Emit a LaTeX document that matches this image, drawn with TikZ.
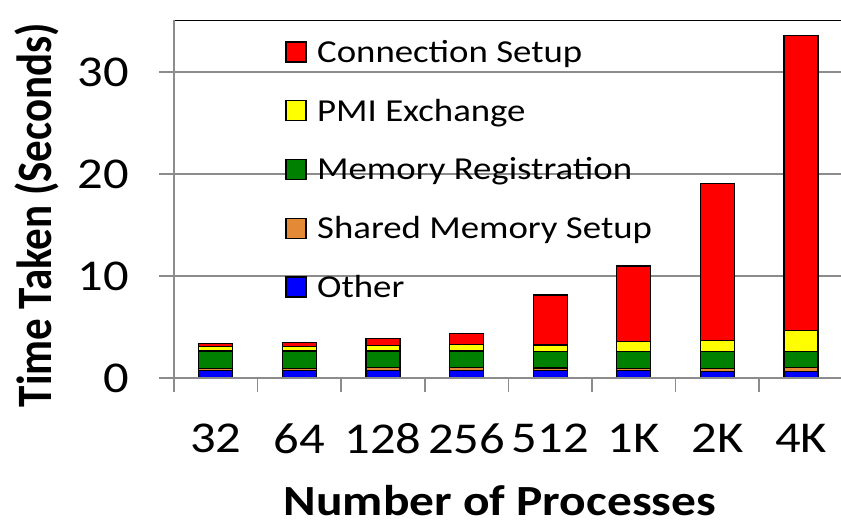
\documentclass[tikz,border=0pt]{standalone}
\usepackage{fontspec}
\setmainfont{Carlito}[FakeStretch=1.15]
\newfontfamily\uprightlabel{Carlito}
\definecolor{axisgray}{RGB}{140,140,140}
\definecolor{cred}{RGB}{255,0,0}
\definecolor{cyellow}{RGB}{255,255,0}
\definecolor{cgreen}{RGB}{0,128,0}
\definecolor{corange}{RGB}{228,138,54}
\definecolor{cblue}{RGB}{0,0,255}
\begin{document}
\begin{tikzpicture}[x=1pt,y=-1pt,
  grid/.style={draw=axisgray,line width=1.5pt},
  seg/.style={draw=black,line width=1.2pt},
  ticklab/.style={font=\fontsize{44}{48}\selectfont,inner sep=0pt},
  leglab/.style={font=\fontsize{32}{36}\selectfont,inner sep=0pt,anchor=base west},
  legkey/.style={draw=black,line width=1.2pt,minimum size=20pt,inner sep=0pt},
  titlelab/.style={font=\fontsize{43}{48}\selectfont\bfseries,inner sep=0pt}]
\useasboundingbox (0,0) rectangle (841,524);
\fill[white] (0,0) rectangle (841,524);

% horizontal gridlines with their ticks
\foreach \v in {10,20,30}
  \draw[grid] (159,{378-10.2*\v}) -- (841,{378-10.2*\v});

% plot area top edge
\draw[black,line width=1.5pt] (174,20.5) -- (841,20.5);

% stacked bars: cumulative tops of Other, Shared Memory, Memory Reg., PMI, Connection
\foreach \k/\a/\b/\c/\d/\e in {
    0/0.75/0.93/2.65/3.09/3.36,
    1/0.75/0.93/2.65/3.09/3.50,
    2/0.72/1.00/2.65/3.20/3.89,
    3/0.72/1.00/2.65/3.30/4.38,
    4/0.72/0.98/2.62/3.23/8.14,
    5/0.72/0.95/2.58/3.56/10.98,
    6/0.65/0.95/2.58/3.68/19.05,
    7/0.62/1.00/2.58/4.64/33.60} {
  \pgfmathsetmacro\xl{174+83.6*\k+41.8-17}
  \pgfmathsetmacro\xr{\xl+34}
  \filldraw[seg,fill=cblue]   (\xl,378) rectangle (\xr,{378-10.2*\a});
  \filldraw[seg,fill=corange] (\xl,{378-10.2*\a}) rectangle (\xr,{378-10.2*\b});
  \filldraw[seg,fill=cgreen]  (\xl,{378-10.2*\b}) rectangle (\xr,{378-10.2*\c});
  \filldraw[seg,fill=cyellow] (\xl,{378-10.2*\c}) rectangle (\xr,{378-10.2*\d});
  \filldraw[seg,fill=cred]    (\xl,{378-10.2*\d}) rectangle (\xr,{378-10.2*\e});
}

% axes
\draw[grid] (159,378) -- (841,378);
\draw[grid] (174,20) -- (174,392);
\foreach \k in {1,...,7}
  \draw[grid] ({174+83.6*\k},378) -- ({174+83.6*\k},392);

% value axis labels
\foreach \v in {0,10,20,30}
  \node[ticklab,anchor=east] (y\v) at (129,{378-10.2*\v}) {\v};

% category labels
\foreach \k/\t in {0/32,1/64,2/128,3/256,4/512,5/1K,6/2K,7/4K}
  \node[ticklab] (c\k) at ({174+83.6*\k+41.8},438.5) {\t};

% axis titles
\node[titlelab] (xtitle) at (500,501) {Number of Processes};
\node[titlelab,rotate=90] (ytitle) at (37,215)
  {\scalebox{1}[1.15]{\uprightlabel\bfseries Time Taken (Seconds)}};

% legend
\foreach \i/\c/\t in {0/cred/Connection Setup,1/cyellow/PMI Exchange,
    2/cgreen/Memory Registration,3/corange/Shared Memory Setup,4/cblue/Other} {
  \node[legkey,fill=\c] (key\i) at (296,{52+58.75*\i}) {};
  \node[leglab] (lab\i) at (317,{52+58.75*\i+10.3}) {\t};
}
\end{tikzpicture}
\end{document}
